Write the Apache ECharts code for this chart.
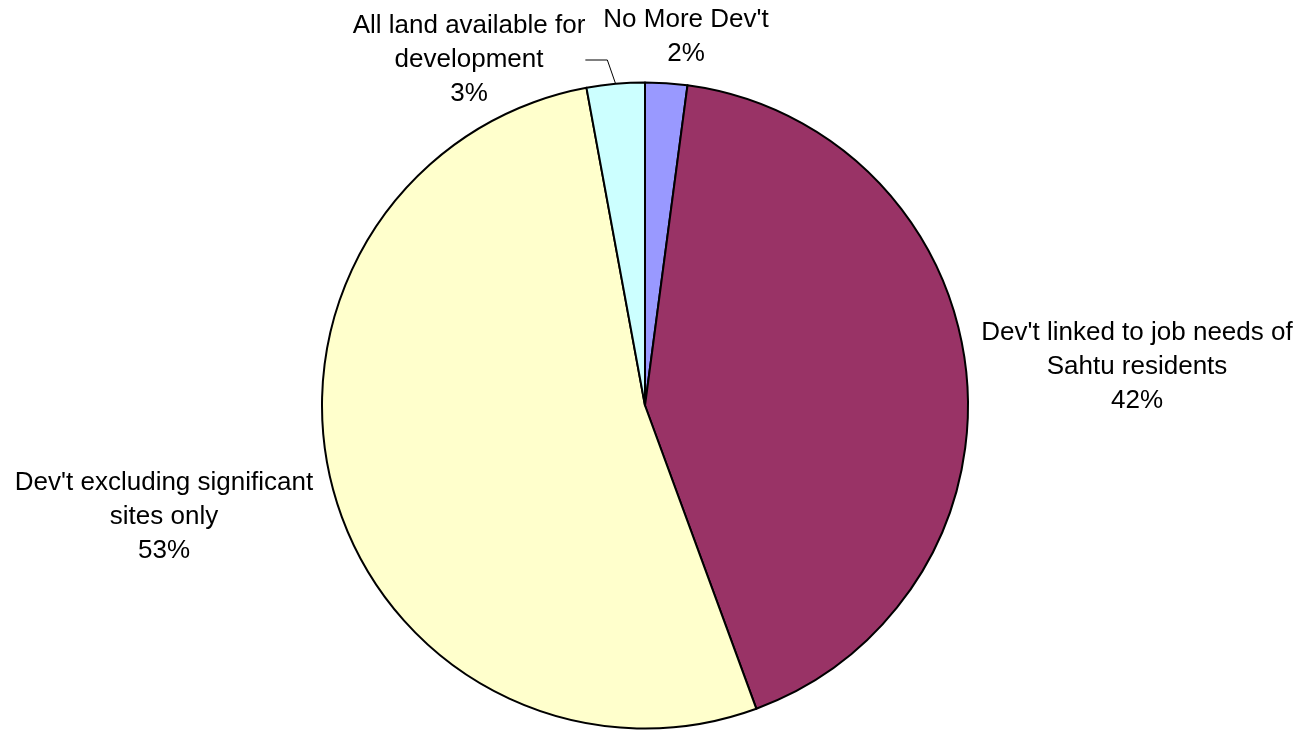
<!DOCTYPE html>
<html>
<head>
<meta charset="utf-8">
<script src="https://cdn.jsdelivr.net/npm/echarts@6/dist/echarts.min.js"></script>
<style>
html,body{margin:0;padding:0;background:#fff;}
#chart{width:1308px;height:730px;}
</style>
</head>
<body>
<div id="chart"></div>
<script>
const categories = [
  "No More Dev't",
  "Dev't linked to job needs of\nSahtu residents",
  "Dev't excluding significant\nsites only",
  "All land available for\ndevelopment"
];
const values = [2.1, 42.3, 52.7, 2.9];
const sliceColors = ['#9999FF', '#993366', '#FFFFCC', '#CCFFFF'];

// label block centres (layout only)
const labelPos = [[686, 37], [1137, 367], [164, 517], [469, 60]];

const chart = echarts.init(document.getElementById('chart'));
chart.setOption({
  animation: false,
  series: [{
    type: 'pie',
    center: [645, 405.5],
    radius: 323,
    startAngle: 90,
    clockwise: true,
    percentPrecision: 0,
    data: categories.map((c, i) => ({
      name: c,
      value: values[i],
      itemStyle: { color: sliceColors[i] },
      labelLine: { show: i === 3, length: 24, length2: 22 }
    })),
    itemStyle: { borderColor: '#000', borderWidth: 2 },
    label: {
      show: true,
      position: 'outside',
      alignTo: 'none',
      overflow: 'none',
      formatter: '{b}\n{d}%',
      fontFamily: 'Liberation Sans, Arial, sans-serif',
      fontSize: 26,
      lineHeight: 34,
      color: '#000',
      align: 'center'
    },
    labelLine: {
      lineStyle: { color: '#000', width: 1 },
      smooth: false
    },
    labelLayout: function (p) {
      const pos = labelPos[p.dataIndex];
      return { x: pos[0], y: pos[1], align: 'center', verticalAlign: 'middle' };
    },
    emphasis: { disabled: true }
  }]
});
</script>
</body>
</html>
